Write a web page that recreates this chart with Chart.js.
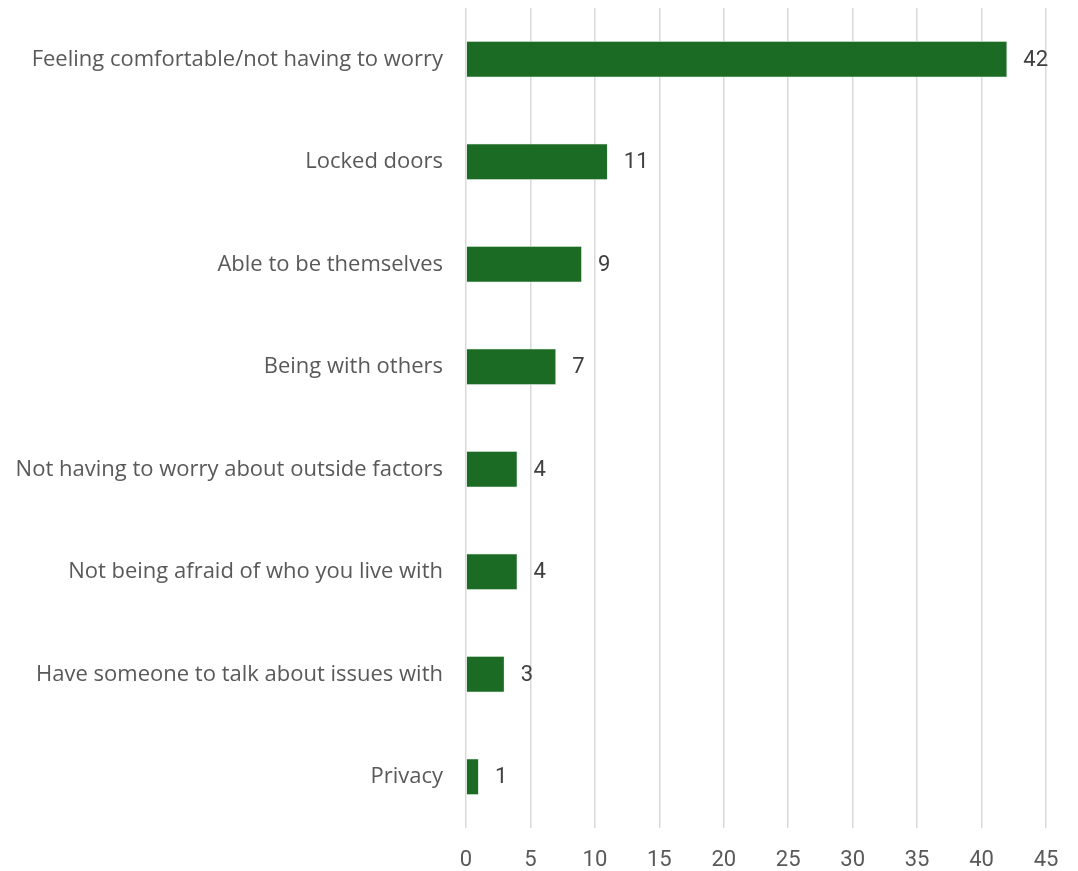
<!DOCTYPE html>
<html>
<head>
<meta charset="utf-8">
<script src="https://cdn.jsdelivr.net/npm/chart.js@4/dist/chart.umd.min.js"></script>
<style>
  html, body { margin: 0; padding: 0; background: #fff; }
  #wrap { width: 1078px; height: 871px; }
</style>
</head>
<body>
<div id="wrap"><canvas id="chart" width="1078" height="871"></canvas></div>
<script>
var categories = [
  'Feeling comfortable/not having to worry',
  'Locked doors',
  'Able to be themselves',
  'Being with others',
  'Not having to worry about outside factors',
  'Not being afraid of who you live with',
  'Have someone to talk about issues with',
  'Privacy'
]
var counts = [42, 11, 9, 7, 4, 4, 3, 1]
var xTicks = [0, 5, 10, 15, 20, 25, 30, 35, 40, 45]

var bar_color = '#1b6b25'
var label_font = '"Open Sans", "Noto Sans", sans-serif'
var tick_font = 'Roboto, "Noto Sans", sans-serif'

// value labels to the right of each bar
var valueLabels = {
  id: 'valueLabels',
  afterDatasetsDraw(chart) {
    var ctx = chart.ctx
    var meta = chart.getDatasetMeta(0)
    ctx.save()
    ctx.font = '22px ' + tick_font
    ctx.fillStyle = '#404040'
    ctx.textAlign = 'left'
    ctx.textBaseline = 'middle'
    meta.data.forEach(function (bar, i) {
      ctx.fillText(String(counts[i]), bar.x + 16, bar.y + 1)
    })
    ctx.restore()
  }
}

new Chart(document.getElementById('chart'), {
  type: 'bar',
  data: {
    labels: categories,
    datasets: [{
      data: counts,
      backgroundColor: bar_color,
      borderColor: '#e6efe6',
      borderWidth: 0.8,
      categoryPercentage: 1,
      barPercentage: 0.355
    }]
  },
  plugins: [valueLabels],
  options: {
    indexAxis: 'y',
    responsive: false,
    animation: false,
    layout: { padding: { top: 8, right: 32, left: 0, bottom: 0 } },
    plugins: {
      legend: { display: false },
      tooltip: { enabled: false }
    },
    scales: {
      x: {
        min: 0,
        max: 45,
        afterBuildTicks: function (scale) {
          scale.ticks = xTicks.map(function (v) { return { value: v } })
        },
        afterFit: function (scale) { scale.height = 43 },
        grid: { color: '#d9d9d9', lineWidth: 1.5, drawTicks: false },
        border: { display: false },
        ticks: {
          padding: 19,
          color: '#595959',
          font: { family: tick_font, size: 22 }
        }
      },
      y: {
        afterFit: function (scale) {
          scale.width = 466
          scale.paddingTop = 0
          scale.paddingBottom = 0
        },
        grid: { display: false, drawTicks: false },
        border: { display: false },
        ticks: {
          padding: 23,
          color: '#595959',
          font: { family: label_font, size: 22 }
        }
      }
    }
  }
})
</script>
</body>
</html>
